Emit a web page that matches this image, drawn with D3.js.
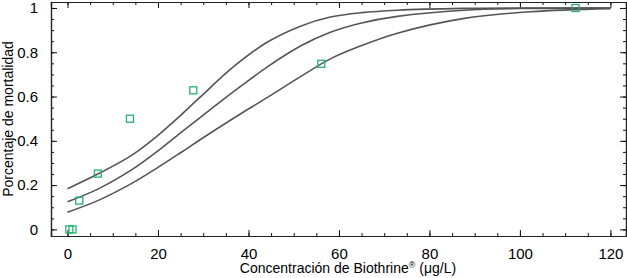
<!DOCTYPE html>
<html>
<head>
<meta charset="utf-8">
<script src="https://cdn.jsdelivr.net/npm/d3@7"></script>
<style>
  body { margin: 0; background: #fff; }
  text { font-family: "Liberation Sans", Arial, sans-serif; fill: #000; }
</style>
</head>
<body>
<svg id="chart" width="627" height="278"></svg>
<script>
// valores
var puntosX = [0.4, 1.1, 2.6, 6.7, 13.8, 27.8, 56.1, 112.3],
	puntosY = [0, 0, 0.13, 0.252, 0.5, 0.628, 0.748, 1.0];

var curvaX = [0, 6.7, 14.4, 20, 24.9, 29.3, 36.7, 44.1, 51.5, 58.1, 65, 72.9, 87.7, 102.4, 120];
var curvaSup = [0.184, 0.25, 0.338, 0.425, 0.513, 0.597, 0.735, 0.845, 0.918, 0.959, 0.979, 0.99, 0.998, 1.0, 1.0],
	curvaMed = [0.125, 0.182, 0.272, 0.355, 0.435, 0.505, 0.622, 0.733, 0.828, 0.89, 0.932, 0.962, 0.99, 0.998, 0.999],
	curvaInf = [0.078, 0.13, 0.21, 0.28, 0.345, 0.405, 0.502, 0.595, 0.69, 0.77, 0.83, 0.886, 0.953, 0.983, 0.997];

var ticksX = [0, 20, 40, 60, 80, 100, 120],
	ticksY = [0, 0.2, 0.4, 0.6, 0.8, 1];

(function() {
	var izq = 51, der = 626, arriba = 2, abajo = 236;

	var svg = d3.select('#chart');

	var x = d3.scaleLinear().domain([-3.65, 123.45]).range([izq, der]);
	var y = d3.scaleLinear().domain([-0.0298, 1.027]).range([abajo, arriba]);

	var menoresX = d3.range(0, 125, 5),
		menoresY = d3.range(0, 1.001, 0.05);

	// ejes: abajo, arriba, izquierda, derecha (marcas hacia dentro)
	var ejeAbajo = svg.append('g').attr('transform', 'translate(0,' + abajo + ')');
	ejeAbajo.call(d3.axisBottom(x).tickValues(menoresX).tickSize(-3).tickFormat(''));
	ejeAbajo.append('g').call(d3.axisBottom(x).tickValues(ticksX).tickSize(-6).tickPadding(12).tickFormat(d3.format('d')));

	var ejeArriba = svg.append('g').attr('transform', 'translate(0,' + arriba + ')');
	ejeArriba.call(d3.axisTop(x).tickValues(menoresX).tickSize(-3).tickFormat(''));
	ejeArriba.append('g').call(d3.axisTop(x).tickValues(ticksX).tickSize(-6).tickFormat(''));

	var ejeIzq = svg.append('g').attr('transform', 'translate(' + izq + ',0)');
	ejeIzq.call(d3.axisLeft(y).tickValues(menoresY).tickSize(-3).tickFormat(''));
	ejeIzq.append('g').call(d3.axisLeft(y).tickValues(ticksY).tickSize(-6).tickPadding(13).tickFormat(d3.format('~g')));

	var ejeDer = svg.append('g').attr('transform', 'translate(' + der + ',0)');
	ejeDer.call(d3.axisRight(y).tickValues(menoresY).tickSize(-3).tickFormat(''));
	ejeDer.append('g').call(d3.axisRight(y).tickValues(ticksY).tickSize(-6).tickFormat(''));

	svg.selectAll('.domain').attr('stroke', '#222').attr('stroke-width', 1.2);
	svg.selectAll('.tick line').attr('stroke', '#111');
	svg.selectAll('.tick text').style('font-size', '15px').style('font-family', '"Liberation Sans", Arial, sans-serif');

	// curvas
	var linea = d3.line()
		.x(function(d) { return x(d[0]); })
		.y(function(d) { return y(d[1]); })
		.curve(d3.curveCatmullRom.alpha(0.5));

	[curvaSup, curvaMed, curvaInf].forEach(function(serie) {
		svg.append('path')
			.datum(curvaX.map(function(v, i) { return [v, serie[i]]; }))
			.attr('fill', 'none')
			.attr('stroke', '#555')
			.attr('stroke-width', 1.6)
			.attr('d', linea);
	});

	// puntos
	var lado = 7;
	svg.selectAll('.punto')
		.data(puntosX.map(function(v, i) { return [v, puntosY[i]]; }))
		.enter().append('rect')
			.attr('class', 'punto')
			.attr('x', function(d) { return x(d[0]) - lado / 2; })
			.attr('y', function(d) { return y(d[1]) - lado / 2; })
			.attr('width', lado)
			.attr('height', lado)
			.attr('fill', 'none')
			.attr('stroke', '#22b46c')
			.attr('stroke-width', 1.3);

	// títulos
	var tx = svg.append('text')
		.attr('x', 348)
		.attr('y', 273)
		.attr('text-anchor', 'middle')
		.style('font-size', '14px')
		.text('Concentración de Biothrine');
	tx.append('tspan').attr('dy', -5).style('font-size', '9px').text('®');
	tx.append('tspan').attr('dy', 5).text(' (μg/L)');

	svg.append('text')
		.attr('transform', 'translate(13,' + ((arriba + abajo) / 2) + ') rotate(-90)')
		.attr('text-anchor', 'middle')
		.style('font-size', '14px')
		.text('Porcentaje de mortalidad');
})();
</script>
</body>
</html>
